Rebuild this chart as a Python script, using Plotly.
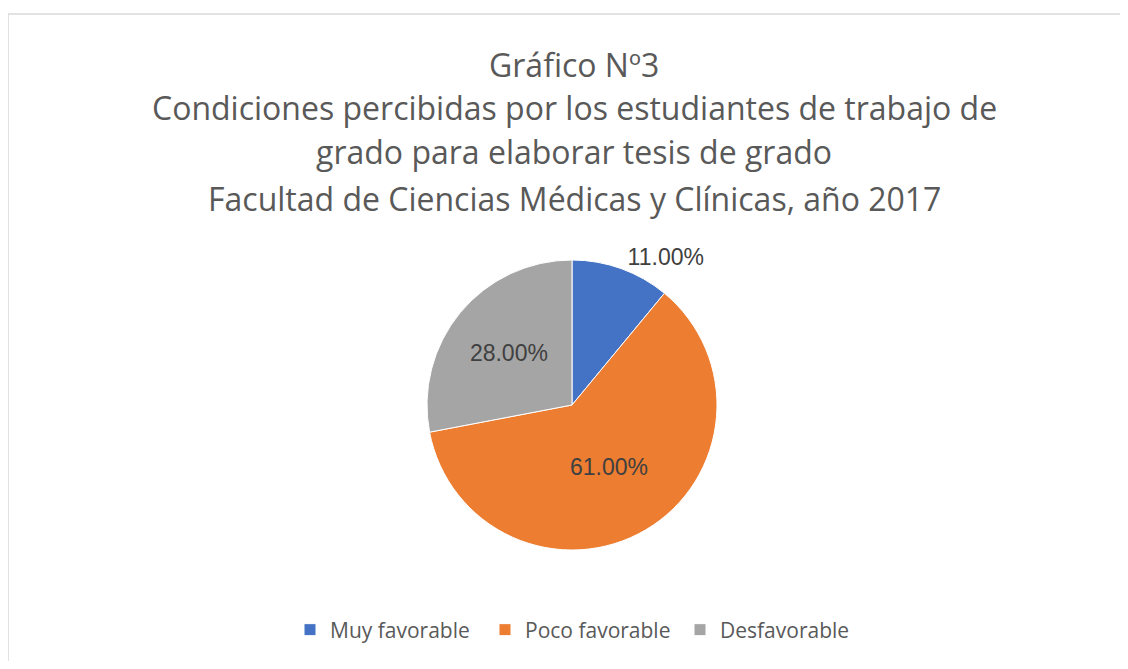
import plotly.graph_objects as go

categories = ["Muy favorable", "Poco favorable", "Desfavorable"]
values = [11, 61, 28]
colors = ["#4472C4", "#ED7D31", "#A5A5A5"]
title_lines = [
    "Gráfico Nº3",
    "Condiciones percibidas por los estudiantes de trabajo de",
    "grado para elaborar tesis de grado",
    "Facultad de Ciencias Médicas y Clínicas, año 2017",
]

W, H = 1112, 653
OFF = 8  # page body offset


def px_x(v):
    return (v - OFF) / W


def px_y(v):
    return 1 - (v - OFF) / H


cx = px_x(572)
fig = go.Figure()
fig.add_trace(go.Pie(
    labels=categories,
    values=values,
    sort=False,
    direction="clockwise",
    rotation=0,
    marker=dict(colors=colors, line=dict(color="white", width=1)),
    texttemplate="%{percent:.2%}",
    textposition=["outside", "inside", "inside"],
    insidetextorientation="horizontal",
    textfont=dict(family="Liberation Sans, Arial", size=23, color="#404040"),
    insidetextfont=dict(family="Liberation Sans, Arial", size=23, color="#404040"),
    outsidetextfont=dict(family="Liberation Sans, Arial", size=23, color="#404040"),
    domain=dict(x=[2 * cx - 1, 1], y=[px_y(550), px_y(260)]),
    hoverinfo="label+percent",
    showlegend=True,
))

ys = [65, 108, 151, 198]
for txt, yy in zip(title_lines, ys):
    fig.add_annotation(
        text=txt, x=px_x(574), y=px_y(yy), xref="paper", yref="paper",
        xanchor="center", yanchor="middle", showarrow=False,
        font=dict(family="Open Sans", size=32, color="#595959"),
    )

fig.add_shape(type="rect", xref="paper", yref="paper",
              x0=0.0, x1=1.3, y0=-0.3, y1=px_y(14),
              line=dict(color="#D9D9D9", width=1.5))

fig.update_layout(
    width=W, height=H,
    margin=dict(l=0, r=0, t=0, b=0, pad=0, autoexpand=False),
    paper_bgcolor="white",
    plot_bgcolor="white",
    legend=dict(
        orientation="h", x=px_x(290), xanchor="left", y=px_y(630), yanchor="middle",
        font=dict(family="Open Sans", size=21, color="#595959"),
        itemwidth=30,
        entrywidth=150,
        traceorder="normal",
    ),
)

fig.write_html("out.html")
